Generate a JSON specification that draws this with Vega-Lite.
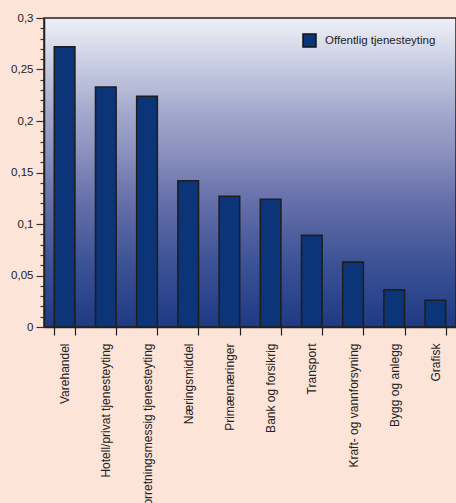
{
  "$schema": "https://vega.github.io/schema/vega-lite/v6.json",
  "autosize": {"type": "none"},
  "width": 412,
  "height": 309,
  "padding": {"left": 44, "top": 18, "right": 0, "bottom": 176},
  "background": "#fde4d8",
  "config": {
    "view": {
      "stroke": "#222222",
      "strokeWidth": 1.5,
      "fill": {
        "gradient": "linear",
        "x1": 0, "y1": 0, "x2": 0, "y2": 1,
        "stops": [
          {"offset": 0, "color": "#eff0f7"},
          {"offset": 0.17, "color": "#c4c8df"},
          {"offset": 0.3, "color": "#a4aacd"},
          {"offset": 0.43, "color": "#8b92bf"},
          {"offset": 0.59, "color": "#6670aa"},
          {"offset": 0.8, "color": "#3b5195"},
          {"offset": 1, "color": "#1e3a84"}
        ]
      }
    },
    "font": "Liberation Sans",
    "axis": {"labelFont": "Liberation Sans", "labelColor": "#222222", "grid": false}
  },
  "data": {
    "values": [
      {"naering": "Varehandel", "verdi": 0.272, "sektor": "Offentlig tjenesteyting"},
      {"naering": "Hotell/privat tjenesteyting", "verdi": 0.233, "sektor": "Offentlig tjenesteyting"},
      {"naering": "Forretningsmessig tjenesteyting", "verdi": 0.224, "sektor": "Offentlig tjenesteyting"},
      {"naering": "Næringsmiddel", "verdi": 0.142, "sektor": "Offentlig tjenesteyting"},
      {"naering": "Primærnæringer", "verdi": 0.127, "sektor": "Offentlig tjenesteyting"},
      {"naering": "Bank og forsikrig", "verdi": 0.124, "sektor": "Offentlig tjenesteyting"},
      {"naering": "Transport", "verdi": 0.089, "sektor": "Offentlig tjenesteyting"},
      {"naering": "Kraft- og vannforsyning", "verdi": 0.063, "sektor": "Offentlig tjenesteyting"},
      {"naering": "Bygg og anlegg", "verdi": 0.036, "sektor": "Offentlig tjenesteyting"},
      {"naering": "Grafisk", "verdi": 0.026, "sektor": "Offentlig tjenesteyting"}
    ]
  },
  "mark": {"type": "bar", "stroke": "#1e1e1e", "strokeWidth": 1.6},
  "encoding": {
    "x": {
      "field": "naering",
      "type": "nominal",
      "sort": null,
      "scale": {"paddingInner": 0.5, "paddingOuter": 0.25},
      "axis": {
        "title": null,
        "labelAngle": -90,
        "labelFontSize": 12,
        "labelPadding": 8,
        "labelLimit": 0,
        "tickBand": "extent",
        "tickSize": 8,
        "tickColor": "#222222",
        "tickWidth": 1.2,
        "domainColor": "#222222",
        "domainWidth": 1.5
      }
    },
    "y": {
      "field": "verdi",
      "type": "quantitative",
      "scale": {"domain": [0, 0.3], "nice": false},
      "axis": {
        "title": null,
        "values": [0, 0.01, 0.02, 0.03, 0.04, 0.05, 0.06, 0.07, 0.08, 0.09, 0.1, 0.11, 0.12, 0.13, 0.14, 0.15, 0.16, 0.17, 0.18, 0.19, 0.2, 0.21, 0.22, 0.23, 0.24, 0.25, 0.26, 0.27, 0.28, 0.29, 0.3],
        "labelExpr": "abs(datum.value * 20 - round(datum.value * 20)) < 0.001 ? replace(format(datum.value, '.2~f'), '.', ',') : ''",
        "labelFontSize": 11.5,
        "labelPadding": 3,
        "tickSize": {"condition": {"test": "abs(datum.value * 20 - round(datum.value * 20)) < 0.001", "value": 8}, "value": 4},
        "tickColor": "#333333",
        "tickWidth": 1.2,
        "domainColor": "#222222",
        "domainWidth": 1.5
      }
    },
    "color": {
      "field": "sektor",
      "type": "nominal",
      "scale": {"range": ["#0b3479"]},
      "legend": {
        "title": null,
        "orient": "none",
        "legendX": 258,
        "legendY": 15,
        "padding": 0,
        "symbolType": "square",
        "symbolSize": 169,
        "symbolStrokeColor": "#111111",
        "symbolStrokeWidth": 1.5,
        "symbolOpacity": 1,
        "labelFontSize": 11.5,
        "labelColor": "#222222",
        "labelOffset": 8
      }
    }
  }
}
